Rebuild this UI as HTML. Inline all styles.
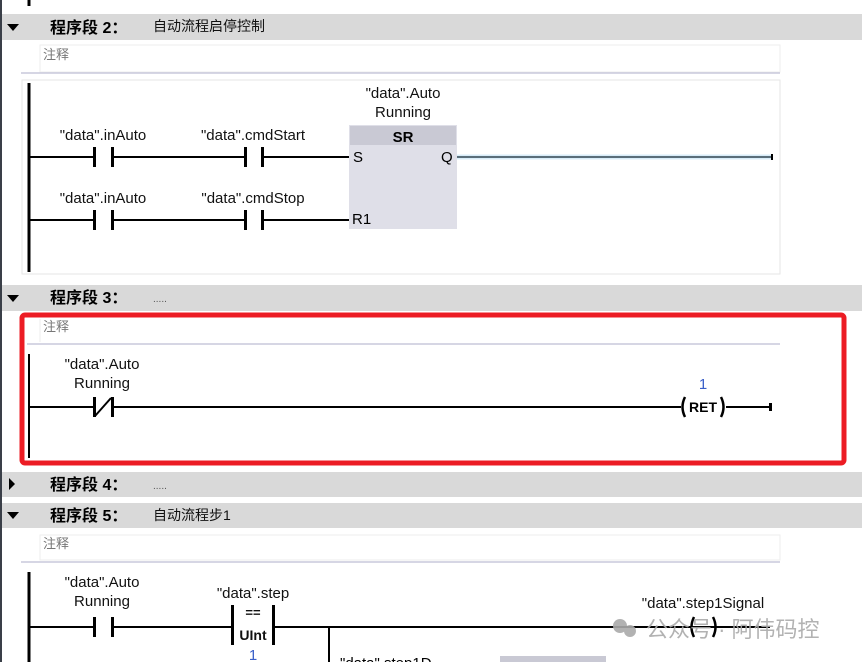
<!DOCTYPE html>
<html><head><meta charset="utf-8"><style>
body{margin:0;background:#fff;}
svg text{font-family:"Liberation Sans","Noto Sans CJK SC",sans-serif;}
</style></head><body>
<svg width="862" height="662" viewBox="0 0 862 662" xmlns="http://www.w3.org/2000/svg">
<rect x="0" y="0" width="862" height="662" fill="#fff"/>
<line x1="1" y1="0" x2="1" y2="662" stroke="#3a3f48" stroke-width="2"/>
<line x1="29" y1="0" x2="29" y2="6" stroke="#000" stroke-width="3"/>

<!-- Network 2 header -->
<rect x="2" y="14" width="860" height="26" fill="#d9d9d9"/>
<polygon points="7,24 19,24 13,31" fill="#000"/>
<text x="50" y="33" font-size="16" font-weight="bold" font-family="'Noto Serif CJK SC',serif">程序段 2：</text>
<text x="153" y="31" font-size="14" fill="#111">自动流程启停控制</text>
<rect x="40" y="45" width="740" height="27" fill="#fff" stroke="#eee"/>
<text x="43" y="59" font-size="13" fill="#777">注释</text>
<line x1="21" y1="73" x2="780" y2="73" stroke="#c8c8dc" stroke-width="1.5"/>
<rect x="22" y="80" width="758" height="194" fill="#fff" stroke="#e6e6e6"/>
<line x1="29" y1="83" x2="29" y2="272" stroke="#000" stroke-width="3"/>
<g stroke="#000" stroke-width="2">
<line x1="30" y1="157" x2="94" y2="157"/><line x1="112" y1="157" x2="244" y2="157"/><line x1="262" y1="157" x2="349" y2="157"/>
<line x1="30" y1="220" x2="94" y2="220"/><line x1="112" y1="220" x2="244" y2="220"/><line x1="262" y1="220" x2="349" y2="220"/>
</g>
<g stroke="#000" stroke-width="3">
<line x1="94.5" y1="147" x2="94.5" y2="167"/><line x1="112.5" y1="147" x2="112.5" y2="167"/>
<line x1="245.5" y1="147" x2="245.5" y2="167"/><line x1="262.5" y1="147" x2="262.5" y2="167"/>
<line x1="94.5" y1="210" x2="94.5" y2="230"/><line x1="112.5" y1="210" x2="112.5" y2="230"/>
<line x1="245.5" y1="210" x2="245.5" y2="230"/><line x1="262.5" y1="210" x2="262.5" y2="230"/>
</g>
<g font-size="15" text-anchor="middle" fill="#111">
<text x="103" y="140">"data".inAuto</text>
<text x="253" y="140">"data".cmdStart</text>
<text x="103" y="203">"data".inAuto</text>
<text x="253" y="203">"data".cmdStop</text>
<text x="403" y="98">"data".Auto</text>
<text x="403" y="117">Running</text>
</g>
<rect x="349" y="125" width="108" height="104" fill="#dfdfe8"/>
<rect x="350" y="126" width="106" height="19" fill="#c9c9d4"/>
<text x="403" y="142" font-size="15" font-weight="bold" text-anchor="middle">SR</text>
<text x="353" y="162" font-size="15">S</text>
<text x="441" y="162" font-size="15">Q</text>
<text x="352" y="224" font-size="15">R1</text>
<line x1="457" y1="157" x2="771" y2="157" stroke="#d8ecf8" stroke-width="5"/>
<line x1="457" y1="157" x2="771" y2="157" stroke="#5a6e7a" stroke-width="2"/>
<rect x="771" y="154" width="2" height="6" fill="#000"/>

<!-- Network 3 -->
<rect x="2" y="285" width="860" height="26" fill="#d9d9d9"/>
<polygon points="7,295 19,295 13,302" fill="#000"/>
<text x="50" y="303" font-size="16" font-weight="bold" font-family="'Noto Serif CJK SC',serif">程序段 3：</text>
<text x="153" y="302" font-size="10" fill="#555">.....</text>
<text x="43" y="331" font-size="13" fill="#777">注释</text>
<line x1="40" y1="319" x2="40" y2="342" stroke="#eee"/>
<line x1="27" y1="344" x2="780" y2="344" stroke="#c8c8dc" stroke-width="1.5"/>
<line x1="29" y1="354" x2="29" y2="458" stroke="#000" stroke-width="2"/>
<g font-size="15" text-anchor="middle" fill="#111">
<text x="102" y="369">"data".Auto</text>
<text x="102" y="388">Running</text>
<text x="703" y="389" fill="#3a5fc8">1</text>
</g>
<g stroke="#000" stroke-width="2">
<line x1="30" y1="407" x2="94" y2="407"/><line x1="112" y1="407" x2="681" y2="407"/><line x1="726" y1="407" x2="770" y2="407"/>
<line x1="95" y1="416" x2="111" y2="398"/>
</g>
<g stroke="#000" stroke-width="3">
<line x1="94.5" y1="397" x2="94.5" y2="417"/><line x1="112.5" y1="397" x2="112.5" y2="417"/>
<rect x="770" y="404" width="1" height="6" stroke-width="2"/>
</g>
<path d="M685,397 Q680,407 685,417 M721,397 Q726,407 721,417" fill="none" stroke="#000" stroke-width="2.5"/>
<text x="703" y="412" font-size="14" font-weight="bold" text-anchor="middle">RET</text>
<rect x="22" y="315" width="822" height="148" rx="3" fill="none" stroke="#ec1c24" stroke-width="5"/>

<!-- Network 4 -->
<rect x="2" y="472" width="860" height="25" fill="#d9d9d9"/>
<polygon points="9,478 9,490 15,484" fill="#000"/>
<text x="50" y="490" font-size="16" font-weight="bold" font-family="'Noto Serif CJK SC',serif">程序段 4：</text>
<text x="153" y="489" font-size="10" fill="#555">.....</text>

<!-- Network 5 -->
<rect x="2" y="503" width="860" height="25" fill="#d9d9d9"/>
<polygon points="7,512 19,512 13,519" fill="#000"/>
<text x="50" y="521" font-size="16" font-weight="bold" font-family="'Noto Serif CJK SC',serif">程序段 5：</text>
<text x="153" y="520" font-size="14" fill="#111">自动流程步1</text>
<rect x="40" y="535" width="740" height="25" fill="#fff" stroke="#eee"/>
<text x="43" y="548" font-size="13" fill="#777">注释</text>
<line x1="21" y1="562" x2="780" y2="562" stroke="#c8c8dc" stroke-width="1.5"/>
<line x1="29" y1="572" x2="29" y2="662" stroke="#000" stroke-width="3"/>
<g font-size="15" text-anchor="middle" fill="#111">
<text x="102" y="587">"data".Auto</text>
<text x="102" y="606">Running</text>
<text x="253" y="598">"data".step</text>
<text x="703" y="608">"data".step1Signal</text>
<text x="253" y="660" fill="#3a5fc8">1</text>
<text x="253" y="617" font-weight="bold" font-size="13">==</text>
<text x="253" y="640" font-weight="bold" font-size="14">UInt</text>
</g>
<g stroke="#000" stroke-width="2">
<line x1="30" y1="627" x2="94" y2="627"/><line x1="112" y1="627" x2="232" y2="627"/><line x1="274" y1="627" x2="770" y2="627"/>
<line x1="329" y1="627" x2="329" y2="662"/>
</g>
<g stroke="#000" stroke-width="3">
<line x1="94.5" y1="617" x2="94.5" y2="637"/><line x1="112.5" y1="617" x2="112.5" y2="637"/>
<line x1="232.5" y1="605" x2="232.5" y2="645"/><line x1="273.5" y1="605" x2="273.5" y2="645"/>
</g>
<path d="M694,617 Q689,627 694,637 M713,617 Q718,627 713,637" fill="none" stroke="#000" stroke-width="2.5"/>
<rect x="500" y="656" width="106" height="8" fill="#c9c9d4"/>
<text x="340" y="668" font-size="15">"data".step1D</text>
<g opacity="0.9">
<circle cx="620" cy="626" r="7" fill="#aaa"/><circle cx="630" cy="631" r="6" fill="#aaa"/>
<text x="646" y="637" font-size="22" fill="#aaa">公众号 · 阿伟码控</text>
</g>
</svg>
</body></html>
